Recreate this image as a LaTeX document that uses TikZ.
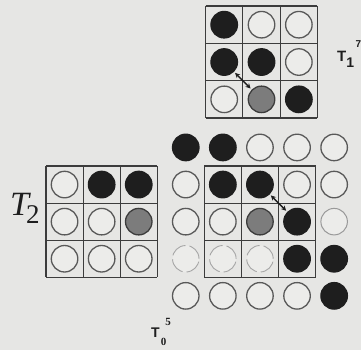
\documentclass[tikz,border=0pt]{standalone}
\usepackage{fontspec}
\newfontfamily\tms{Liberation Serif}
\newfontfamily\lab{Liberation Sans}
\usetikzlibrary{arrows.meta}
\definecolor{bg}{HTML}{E6E6E4}
\definecolor{ink}{HTML}{3C3C3C}
\definecolor{blk}{HTML}{1E1E1E}
\definecolor{gry}{HTML}{7C7C7C}
\definecolor{wht}{HTML}{ECECEA}
\newcommand\cellgrid[3]{% x0, y0, cell
  \foreach \i in {0,...,3}{
    \draw[gridline] ({#1+#3*\i},#2) -- ({#1+#3*\i},{#2+3*#3});
    \draw[gridline] (#1,{#2+#3*\i}) -- ({#1+3*#3},{#2+#3*\i});
  }}
\begin{document}
\begin{tikzpicture}[x=1pt,y=-1pt,
  disc/.style={circle,minimum size=26.5pt,inner sep=0pt,line width=1.3pt},
  wc/.style={disc,draw=ink!85,fill=wht},
  bc/.style={disc,draw=blk,fill=blk},
  gc/.style={disc,draw=ink,fill=gry},
  dc/.style={disc,draw=gray!70,line width=0.9pt,dash pattern=on 17pt off 4pt,fill=wht},
  lc/.style={disc,draw=gray!80,line width=1pt,fill=wht},
  gridline/.style={draw=ink,line width=1.2pt},
  swap/.style={<->,>={Stealth[length=5pt,width=5pt]},line width=1.4pt,draw=blk,shorten <=1.5pt,shorten >=1.5pt},
  lbl/.style={anchor=base west,inner sep=0pt,text=blk}]
\fill[bg] (0,0) rectangle (361,350);
\useasboundingbox (0,0) rectangle (361,350);
% top grid
\cellgrid{205.5}{6}{37.33}
\foreach \r/\c/\s in {1/1/bc,1/2/wc,1/3/wc,2/1/bc,2/2/bc,2/3/wc,3/1/wc,3/2/gc,3/3/bc}
  \node[\s] (t-\r-\c) at ({224.2+37.33*(\c-1)},{24.7+37.33*(\r-1)}) {};
% left grid
\cellgrid{46}{166}{37.1}
\foreach \r/\c/\s in {1/1/wc,1/2/bc,1/3/bc,2/1/wc,2/2/wc,2/3/gc,3/1/wc,3/2/wc,3/3/wc}
  \node[\s] (l-\r-\c) at ({64.55+37.1*(\c-1)},{184.55+37.1*(\r-1)}) {};
% bottom right field
\cellgrid{204.3}{166}{37.1}
\foreach \r/\c/\s in {1/1/bc,1/2/bc,1/3/wc,1/4/wc,1/5/wc,
                      2/1/wc,2/2/bc,2/3/bc,2/4/wc,2/5/wc,
                      3/1/wc,3/2/wc,3/3/gc,3/4/bc,3/5/lc,
                      4/1/dc,4/2/dc,4/3/dc,4/4/bc,4/5/bc,
                      5/1/wc,5/2/wc,5/3/wc,5/4/wc,5/5/bc}
  \node[\s] (b-\r-\c) at ({185.75+37.1*(\c-1)},{147.45+37.1*(\r-1)}) {};
% swap arrows
\draw[swap] (t-2-1) -- (t-3-2);
\draw[swap] (b-2-3) -- (b-3-4);
% labels
\node[lbl] (T2) at (10,215) {\tms\fontsize{34}{35}\selectfont\itshape T\kern-3pt\raisebox{-8pt}{\upshape\fontsize{27}{28}\selectfont 2}};
\node[lbl] (T1) at (337,62) {\lab\bfseries\fontsize{15}{15}\selectfont T\raisebox{-6pt}{\fontsize{14}{14}\selectfont 1}\kern1.5pt\raisebox{14pt}{\fontsize{10}{10}\selectfont 7}};
\node[lbl] (T0) at (151,337) {\lab\bfseries\fontsize{14}{14}\selectfont T\kern1pt\raisebox{-8pt}{\tms\fontsize{11}{11}\selectfont 0}\kern-1pt\raisebox{12pt}{\tms\fontsize{11}{11}\selectfont 5}};
\end{tikzpicture}
\end{document}
